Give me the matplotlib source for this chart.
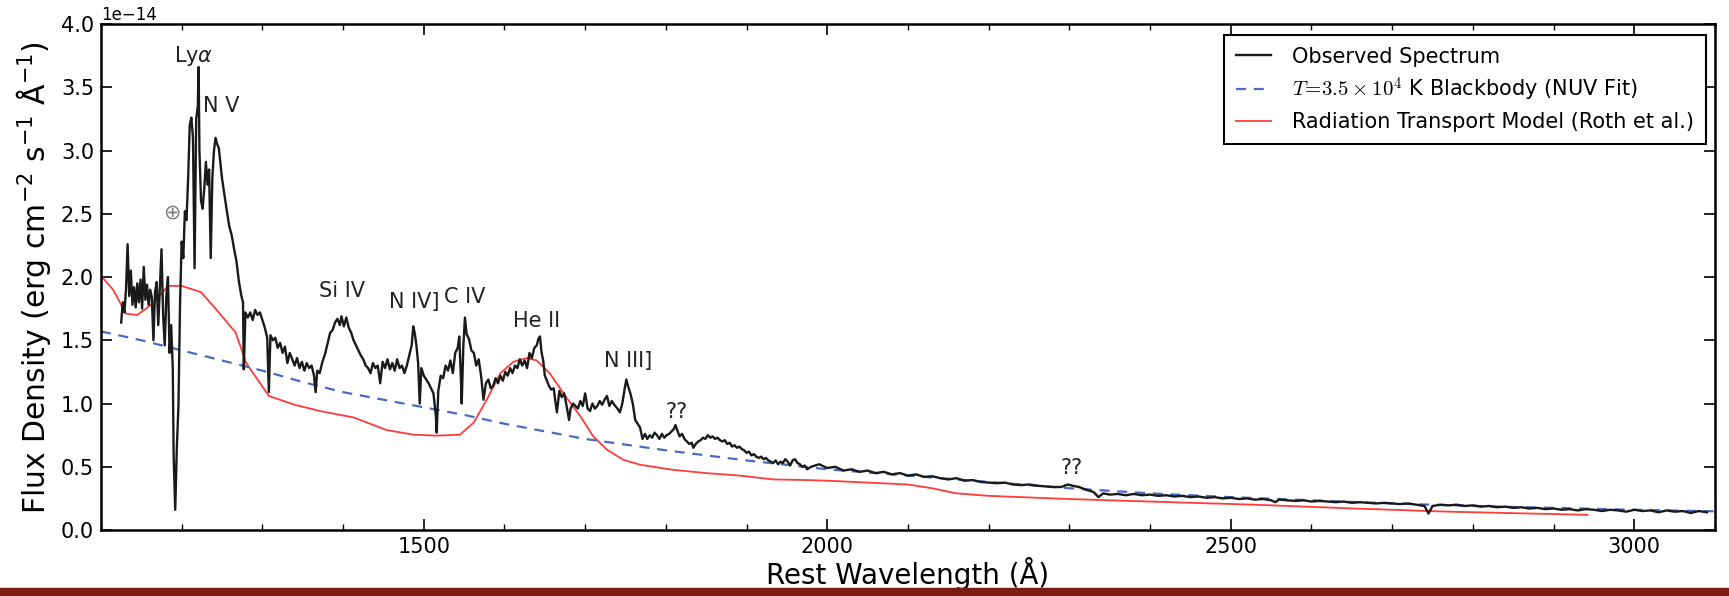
import matplotlib
matplotlib.use("Agg")
import matplotlib.pyplot as plt
from matplotlib.ticker import MultipleLocator
from matplotlib.patches import Rectangle
import numpy as np

SCALE = 1e-14

# ---------------- observed spectrum (flux in 1e-14 erg/cm2/s/A) ----------------
obs_fuv_wave = [1125, 1127, 1129, 1131, 1133, 1135, 1137, 1139, 1141, 1143, 1145, 1147, 1149, 1151,
                1153, 1155, 1157, 1159, 1161, 1163, 1165, 1167, 1169, 1171, 1173, 1175, 1177, 1179,
                1181, 1183, 1185, 1187, 1189, 1190, 1192, 1194, 1196, 1198, 1200, 1202, 1204, 1206,
                1208, 1210, 1212, 1214, 1216, 1218, 1220, 1221, 1222, 1224, 1226, 1228, 1230, 1232,
                1234, 1236, 1238, 1240, 1242, 1244, 1246, 1248, 1250, 1253, 1256, 1259, 1262, 1265,
                1268, 1271, 1274, 1276, 1277, 1279, 1282, 1285, 1288, 1291, 1294, 1297, 1300, 1303,
                1306, 1308, 1310, 1313, 1316, 1319, 1322, 1325, 1328, 1331, 1334, 1337, 1340, 1343,
                1346, 1349, 1352, 1355, 1358, 1361, 1364, 1366, 1368, 1371]
obs_fuv_flux = [1.64, 1.80, 1.72, 1.90, 2.26, 1.85, 2.05, 1.78, 1.92, 1.76, 1.95, 1.80, 1.98, 1.75,
                2.08, 1.82, 1.94, 1.78, 1.90, 1.84, 1.50, 1.88, 1.96, 1.62, 1.92, 2.22, 1.70, 1.46,
                1.85, 2.00, 1.40, 1.62, 1.27, 0.60, 0.16, 0.65, 0.98, 1.80, 2.28, 2.15, 2.52, 2.45,
                2.78, 3.20, 3.26, 3.10, 2.07, 3.25, 3.35, 3.66, 3.00, 2.60, 2.54, 2.70, 2.91, 2.73,
                2.85, 2.15, 2.78, 3.00, 3.10, 3.05, 3.02, 2.90, 2.78, 2.65, 2.52, 2.40, 2.33, 2.22,
                2.12, 1.96, 1.85, 1.80, 1.27, 1.72, 1.68, 1.72, 1.66, 1.74, 1.70, 1.72, 1.66, 1.60,
                1.52, 1.09, 1.54, 1.50, 1.52, 1.44, 1.48, 1.40, 1.45, 1.32, 1.40, 1.35, 1.30, 1.36,
                1.28, 1.33, 1.26, 1.32, 1.28, 1.30, 1.22, 1.09, 1.26, 1.24]

obs_mid_wave = [1374, 1378, 1381, 1384, 1387, 1390, 1393, 1396, 1398, 1401, 1404, 1407, 1410, 1413,
                1416, 1419, 1422, 1425, 1428, 1431, 1434, 1437, 1440, 1443, 1446, 1449, 1452, 1455,
                1458, 1461, 1464, 1467, 1470, 1473, 1476, 1479, 1482, 1485, 1487, 1489, 1491, 1493,
                1495, 1497, 1500, 1503, 1506, 1509, 1512, 1515, 1516, 1518, 1521, 1524, 1527, 1530,
                1533, 1536, 1539, 1542, 1544, 1546, 1547, 1549, 1551, 1553, 1556, 1559, 1562, 1565,
                1568, 1571, 1574, 1577, 1580, 1583, 1586, 1589, 1592, 1595, 1598, 1601, 1604, 1607,
                1610, 1613, 1616, 1619, 1622, 1625, 1628, 1631, 1634, 1637, 1640, 1642, 1644, 1646,
                1648, 1650, 1652, 1655, 1658, 1661, 1663, 1665, 1668, 1671, 1674, 1677, 1680, 1682,
                1685, 1688, 1691, 1694, 1697, 1700, 1703, 1706, 1709, 1712, 1715, 1718, 1721, 1724,
                1727, 1730, 1733, 1736, 1740, 1743, 1746, 1749, 1751, 1753, 1756, 1759, 1762, 1765,
                1768, 1771, 1774, 1777, 1780, 1783, 1786, 1789, 1792, 1795, 1798, 1801, 1804, 1807,
                1810, 1812, 1814, 1817, 1820, 1823, 1826, 1829, 1832, 1834, 1837, 1840, 1843, 1846,
                1849, 1852, 1855, 1858, 1861, 1864, 1867, 1870, 1873, 1876, 1879, 1882, 1885, 1888,
                1891, 1894, 1897, 1900, 1903, 1906, 1909, 1912, 1915, 1918, 1921, 1924, 1927, 1930,
                1933, 1936, 1939, 1942, 1945, 1948, 1951, 1954, 1957, 1960, 1963, 1966, 1969, 1972,
                1975]
obs_mid_flux = [1.32, 1.40, 1.48, 1.56, 1.58, 1.64, 1.67, 1.62, 1.69, 1.61, 1.68, 1.60, 1.56, 1.50,
                1.46, 1.42, 1.38, 1.35, 1.30, 1.28, 1.24, 1.32, 1.28, 1.30, 1.16, 1.33, 1.28, 1.35,
                1.27, 1.32, 1.26, 1.35, 1.28, 1.30, 1.24, 1.30, 1.38, 1.46, 1.61, 1.55, 1.45, 1.32,
                1.00, 1.28, 1.22, 1.19, 1.16, 1.12, 1.08, 0.90, 0.77, 1.10, 1.22, 1.20, 1.30, 1.26,
                1.34, 1.24, 1.40, 1.44, 1.53, 1.20, 1.00, 1.45, 1.68, 1.55, 1.51, 1.42, 1.40, 1.30,
                1.35, 1.22, 1.03, 1.16, 1.19, 1.12, 1.14, 1.20, 1.16, 1.22, 1.18, 1.25, 1.22, 1.28,
                1.24, 1.30, 1.28, 1.35, 1.30, 1.34, 1.28, 1.40, 1.36, 1.44, 1.46, 1.51, 1.53, 1.40,
                1.34, 1.22, 1.19, 1.14, 1.11, 1.12, 1.02, 0.93, 1.10, 1.05, 1.08, 0.98, 0.87, 0.96,
                1.00, 0.98, 0.96, 1.02, 0.98, 1.08, 0.96, 0.94, 1.00, 0.96, 0.98, 1.02, 0.99, 1.03,
                1.06, 0.98, 1.02, 0.99, 0.96, 0.93, 1.00, 1.12, 1.19, 1.14, 1.08, 1.00, 0.87, 0.84,
                0.81, 0.72, 0.76, 0.72, 0.75, 0.73, 0.77, 0.75, 0.72, 0.76, 0.73, 0.75, 0.76, 0.78,
                0.80, 0.83, 0.79, 0.74, 0.76, 0.72, 0.70, 0.68, 0.69, 0.65, 0.68, 0.70, 0.71, 0.73,
                0.72, 0.75, 0.73, 0.74, 0.72, 0.73, 0.71, 0.70, 0.71, 0.68, 0.69, 0.66, 0.67, 0.65,
                0.66, 0.64, 0.63, 0.61, 0.62, 0.59, 0.60, 0.58, 0.57, 0.58, 0.56, 0.57, 0.55, 0.54,
                0.53, 0.55, 0.52, 0.54, 0.53, 0.56, 0.54, 0.51, 0.55, 0.56, 0.53, 0.52, 0.50, 0.51,
                0.48]

obs_nuv_wave = [1980, 1990, 2000, 2010, 2020, 2030, 2040, 2050, 2060, 2070, 2080, 2090, 2100, 2110,
                2120, 2130, 2140, 2150, 2160, 2170, 2180, 2190, 2200, 2210, 2220, 2230, 2240, 2250,
                2260, 2270, 2280, 2290, 2298, 2304, 2312, 2320, 2330, 2336, 2342, 2350, 2360, 2370,
                2380, 2390, 2400, 2410, 2420, 2430, 2440, 2450, 2460, 2470, 2480, 2490, 2500, 2510,
                2520, 2530, 2540, 2550, 2555, 2560, 2570, 2580, 2590, 2600, 2610, 2620, 2630, 2640,
                2650, 2660, 2670, 2680, 2690, 2700, 2710, 2720, 2730, 2740, 2745, 2750, 2760, 2770,
                2780, 2790, 2800, 2810, 2820, 2830, 2840, 2850, 2860, 2870, 2880, 2890, 2900, 2910,
                2920, 2930, 2940, 2950, 2960, 2970, 2980, 2990, 3000, 3010, 3020, 3030, 3040, 3050,
                3060, 3070, 3080, 3090]
obs_nuv_flux = [0.50, 0.52, 0.49, 0.50, 0.47, 0.48, 0.46, 0.47, 0.45, 0.46, 0.44, 0.45, 0.43, 0.44,
                0.42, 0.425, 0.41, 0.40, 0.41, 0.39, 0.395, 0.38, 0.375, 0.37, 0.375, 0.36, 0.355, 0.36,
                0.35, 0.345, 0.34, 0.34, 0.36, 0.35, 0.34, 0.32, 0.30, 0.26, 0.29, 0.28, 0.285, 0.275,
                0.285, 0.275, 0.28, 0.27, 0.275, 0.265, 0.27, 0.26, 0.265, 0.255, 0.26, 0.25, 0.255, 0.245,
                0.25, 0.24, 0.245, 0.235, 0.22, 0.24, 0.235, 0.23, 0.235, 0.225, 0.23, 0.225, 0.22, 0.225,
                0.215, 0.22, 0.215, 0.21, 0.215, 0.21, 0.205, 0.21, 0.20, 0.19, 0.13, 0.19, 0.20, 0.195,
                0.20, 0.19, 0.195, 0.185, 0.19, 0.18, 0.185, 0.175, 0.18, 0.17, 0.175, 0.165, 0.17, 0.16,
                0.165, 0.155, 0.165, 0.16, 0.15, 0.16, 0.155, 0.145, 0.16, 0.15, 0.155, 0.14, 0.155, 0.145,
                0.15, 0.135, 0.15, 0.14]

# ---------------- blackbody fit ----------------
bb_wave = [1100, 1150, 1200, 1250, 1300, 1350, 1400, 1450, 1500, 1550, 1600, 1650, 1700, 1750,
           1800, 1900, 2000, 2100, 2200, 2300, 2400, 2500, 2600, 2700, 2800, 2900, 3000, 3100]
bb_flux = [1.57, 1.50, 1.42, 1.34, 1.26, 1.17, 1.09, 1.03, 0.97, 0.91, 0.84, 0.78, 0.72, 0.675,
           0.63, 0.55, 0.48, 0.43, 0.38, 0.33, 0.29, 0.26, 0.235, 0.21, 0.19, 0.175, 0.16, 0.148]

# ---------------- radiation transport model ----------------
model_wave = [1100, 1115, 1131, 1145, 1160, 1170, 1183, 1200, 1224, 1242, 1267, 1280, 1308, 1340,
              1372, 1413, 1454, 1487, 1516, 1545, 1562, 1578, 1595, 1611, 1628, 1640, 1656, 1677,
              1694, 1710, 1727, 1747, 1768, 1809, 1850, 1892, 1933, 1974, 2000, 2050, 2100, 2130,
              2160, 2200, 2300, 2400, 2530, 2645, 2770, 2942]
model_flux = [2.01, 1.90, 1.71, 1.70, 1.77, 1.83, 1.93, 1.93, 1.88, 1.75, 1.56, 1.32, 1.06, 0.99,
              0.94, 0.89, 0.79, 0.754, 0.746, 0.754, 0.85, 1.03, 1.24, 1.33, 1.36, 1.34, 1.24, 1.045,
              0.90, 0.74, 0.635, 0.556, 0.516, 0.476, 0.45, 0.43, 0.40, 0.395, 0.39, 0.375, 0.36, 0.33,
              0.29, 0.27, 0.245, 0.225, 0.20, 0.172, 0.145, 0.12]

# ---------------- line identifications ----------------
line_labels = ["Ly$\\alpha$", "N V", "$\\oplus$", "Si IV", "N IV]", "C IV", "He II", "N III]", "??", "??"]
line_wave = [1215, 1249, 1188, 1399, 1488, 1551, 1640, 1753, 1813, 2303]
line_flux = [3.75, 3.35, 2.50, 1.89, 1.80, 1.84, 1.65, 1.34, 0.93, 0.49]

legend_labels = ["Observed Spectrum",
                 "$T\\!=\\!3.5\\times10^4$ K Blackbody (NUV Fit)",
                 "Radiation Transport Model (Roth et al.)"]

obs_wave = np.array(obs_fuv_wave + obs_mid_wave + obs_nuv_wave, dtype=float)
obs_flux = np.array(obs_fuv_flux + obs_mid_flux + obs_nuv_flux, dtype=float) * SCALE

plt.rcParams['font.family'] = ['DejaVu Sans']

fig = plt.figure(figsize=(17.29, 5.96), dpi=100)
ax = fig.add_axes([0.0584, 0.1107, 0.9335, 0.849])

l_model, = ax.plot(model_wave, np.array(model_flux) * SCALE, color='#ff3b3b', lw=1.3, zorder=2)
l_bb, = ax.plot(bb_wave, np.array(bb_flux) * SCALE, color='#4a6cc0', lw=1.6,
                dashes=(4.5, 3.5), zorder=2)
l_obs, = ax.plot(obs_wave, obs_flux, color='#1a1a1a', lw=1.7, zorder=3)

for lab, w, f in zip(line_labels, line_wave, line_flux):
    col = '#808080' if 'oplus' in lab else '#222222'
    ax.text(w, f * SCALE, lab, ha='center', va='center', fontsize=15, color=col)

ax.set_xlim(1100, 3100)
ax.set_ylim(0, 4e-14)
ax.xaxis.set_major_locator(MultipleLocator(500))
ax.xaxis.set_minor_locator(MultipleLocator(100))
ax.yaxis.set_major_locator(MultipleLocator(0.5e-14))
ax.tick_params(which='both', direction='in', top=True, right=True, labelsize=15, pad=5)
ax.tick_params(which='major', length=8, width=1.2)
ax.tick_params(which='minor', length=4, width=1.0)
for sp in ax.spines.values():
    sp.set_linewidth(1.8)
ax.yaxis.get_offset_text().set_fontsize(12)

ax.set_ylabel("Flux Density (erg cm$^{-2}$ s$^{-1}$ Å$^{-1}$)", fontsize=21.5, labelpad=6)
ax.set_xlabel("Rest Wavelength (Å)", fontsize=20, labelpad=0)

leg = ax.legend([l_obs, l_bb, l_model], legend_labels, loc='upper right', fontsize=15,
                labelspacing=0.42, handlelength=1.7, handletextpad=1.0, borderpad=0.55,
                borderaxespad=0.3, fancybox=False, framealpha=1, edgecolor='black',
                bbox_to_anchor=(0.998, 0.99))
leg.get_frame().set_linewidth(1.5)
leg.get_texts()[1].set_math_fontfamily('cm')

fig.patches.append(Rectangle((0, 0), 1, 8 / 596, transform=fig.transFigure,
                             color='#7d1a14', zorder=10))

fig.savefig("out.png", dpi=100)
